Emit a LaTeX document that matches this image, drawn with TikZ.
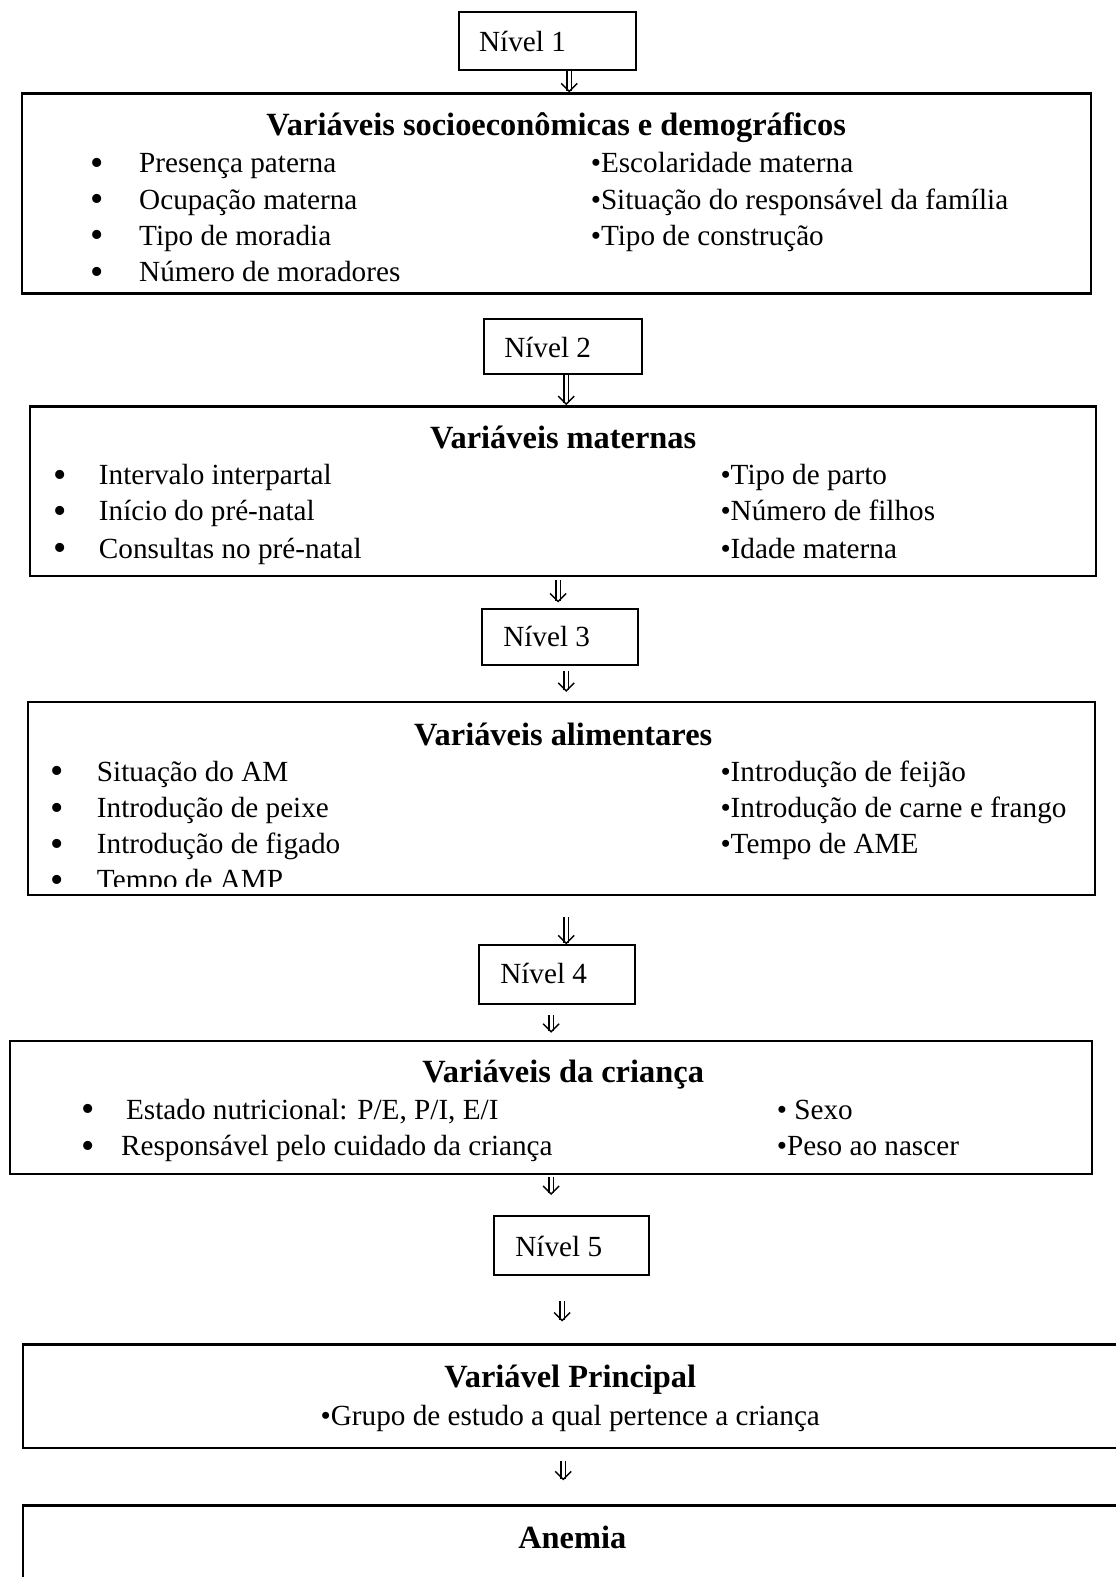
\documentclass[tikz,border=0pt]{standalone}
\usepackage{fontspec}
\setmainfont{Liberation Serif}
\usetikzlibrary{arrows.meta,positioning,fit}
\tikzstyle{nivel}=[rectangle,draw=black,line width=1pt,inner sep=0pt]
\tikzstyle{grupo}=[rectangle,draw=black,line width=1.2pt,inner sep=0pt]
\tikzstyle{txt}=[inner sep=0pt,anchor=base west,font=\fontsize{14.6}{17}\selectfont]
\tikzstyle{ponto}=[inner sep=0pt,anchor=center,font=\fontsize{19}{20}\selectfont]
\tikzstyle{titulo}=[inner sep=0pt,anchor=base,font=\fontsize{16.2}{18}\selectfont\bfseries]
\tikzstyle{flow}=[double,double distance=1.6pt,line width=0.6pt,-{Straight Barb[length=4pt,width=8pt,line width=0.7pt]}]

\begin{document}
\begin{tikzpicture}[x=0.5027pt,y=-0.5027pt]
  \useasboundingbox (0,0) rectangle (1109,1568);

  % Nivel 1
  \node[nivel,fit={(456,12) (632,70)}] (n1) {};
  \node[txt] (n1t) at (476,51) {Nível 1};

  % variaveis socioeconomicas
  \node[grupo,fit={(22,93) (1085,292)}] (b1) {};
  \node[titulo] (b1t) at (553,135) {Variáveis socioeconômicas e demográficos};
  \node[ponto] at (97,166) {\textbullet};
  \node[txt] (s1) at (138,172) {Presença paterna};
  \node[ponto] at (97,202) {\textbullet};
  \node[txt] (s2) at (138,208) {Ocupação materna};
  \node[ponto] at (97,238) {\textbullet};
  \node[txt] (s3) at (138,244) {Tipo de moradia};
  \node[ponto] at (97,274) {\textbullet};
  \node[txt] (s4) at (138,280) {Número de moradores};
  \node[txt] (s5) at (587,172) {\textbullet Escolaridade materna};
  \node[txt] (s6) at (587,208) {\textbullet Situação do responsável da família};
  \node[txt] (s7) at (587,244) {\textbullet Tipo de construção};

  % Nivel 2
  \node[nivel,fit={(481,317) (638,372)}] (n2) {};
  \node[txt] (n2t) at (501,355) {Nível 2};

  % variaveis maternas
  \node[grupo,fit={(30,404) (1090,573)}] (b2) {};
  \node[titulo] (b2t) at (560,446) {Variáveis maternas};
  \node[ponto] at (60,476) {\textbullet};
  \node[txt] (m1) at (98,482) {Intervalo interpartal};
  \node[ponto] at (60,512) {\textbullet};
  \node[txt] (m2) at (98,518) {Início do pré-natal};
  \node[ponto] at (60,549) {\textbullet};
  \node[txt] (m3) at (98,555) {Consultas no pré-natal};
  \node[txt] (m4) at (716,482) {\textbullet Tipo de parto};
  \node[txt] (m5) at (716,518) {\textbullet Número de filhos};
  \node[txt] (m6) at (716,555) {\textbullet Idade materna};

  % Nivel 3
  \node[nivel,fit={(479,606) (634,661)}] (n3) {};
  \node[txt] (n3t) at (500,643) {Nível 3};

  % variaveis alimentares
  \node[grupo,fit={(28,698) (1089,890)}] (b3) {};
  \node[titulo] (b3t) at (560,741) {Variáveis alimentares};
  \node[ponto] at (57,771) {\textbullet};
  \node[txt] (a1) at (96,777) {Situação do AM};
  \node[ponto] at (57,807) {\textbullet};
  \node[txt] (a2) at (96,813) {Introdução de peixe};
  \node[ponto] at (57,843) {\textbullet};
  \node[txt] (a3) at (96,849) {Introdução de figado};
  \node[ponto] at (57,879) {\textbullet};
  \begin{scope}
    \clip (28,698) rectangle (1089,881);
    \node[txt] (a4) at (96,884) {Tempo de AMP};
  \end{scope}
  \node[txt] (a5) at (716,777) {\textbullet Introdução de feijão};
  \node[txt] (a6) at (716,813) {\textbullet Introdução de carne e frango};
  \node[txt] (a7) at (716,849) {\textbullet Tempo de AME};

  % Nivel 4
  \node[nivel,fit={(476,940) (631,998)}] (n4) {};
  \node[txt] (n4t) at (497,978) {Nível 4};

  % variaveis da crianca
  \node[grupo,fit={(10,1035) (1086,1167)}] (b4) {};
  \node[titulo] (b4t) at (560,1076) {Variáveis da criança};
  \node[ponto] at (88,1107) {\textbullet};
  \node[txt] (c1) at (125,1113) {Estado nutricional: P/E, P/I, E/I};
  \node[ponto] at (88,1143) {\textbullet};
  \node[txt] (c2) at (120,1149) {Responsável pelo cuidado da criança};
  \node[txt] (c3) at (772,1113) {\textbullet{} Sexo};
  \node[txt] (c4) at (772,1149) {\textbullet Peso ao nascer};

  % Nivel 5
  \node[nivel,fit={(491,1209) (645,1268)}] (n5) {};
  \node[txt] (n5t) at (512,1249) {Nível 5};

  % variavel principal
  \node[grupo,fit={(23,1337) (1125,1440)}] (b5) {};
  \node[titulo] (b5t) at (567,1380) {Variável Principal};
  \node[txt,anchor=base] (p1) at (567,1417) {\textbullet Grupo de estudo a qual pertence a criança};

  % anemia
  \node[grupo,fit={(23,1497) (1125,1600)}] (b6) {};
  \node[titulo] (b6t) at (569,1540) {Anemia};

  % setas
  \coordinate (x1) at (566,0);
  \coordinate (x2) at (563,0);
  \coordinate (x3) at (555,0);
  \coordinate (x4) at (563,0);
  \coordinate (x5) at (563,0);
  \coordinate (x6) at (548,0);
  \coordinate (x7) at (548,0);
  \coordinate (x8) at (559,0);
  \coordinate (x9) at (560,0);
  \draw[flow] (n1.south -| x1) -- (b1.north -| x1);
  \draw[flow] (n2.south -| x2) -- (b2.north -| x2);
  \draw[flow,shorten <=1.5pt,shorten >=3pt] (b2.south -| x3) -- (n3.north -| x3);
  \draw[flow,shorten <=2.5pt,shorten >=4.5pt] (n3.south -| x4) -- (b3.north -| x4);
  \draw[flow,shorten <=10.5pt] (b3.south -| x5) -- (n4.north -| x5);
  \draw[flow,shorten <=5pt,shorten >=3.5pt] (n4.south -| x6) -- (b4.north -| x6);
  \draw[flow,shorten <=1pt,shorten >=10pt] (b4.south -| x7) -- (n5.north -| x7);
  \draw[flow,shorten <=12.5pt,shorten >=11pt] (n5.south -| x8) -- (b5.north -| x8);
  \draw[flow,shorten <=6pt,shorten >=12pt] (b5.south -| x9) -- (b6.north -| x9);
\end{tikzpicture}
\end{document}
